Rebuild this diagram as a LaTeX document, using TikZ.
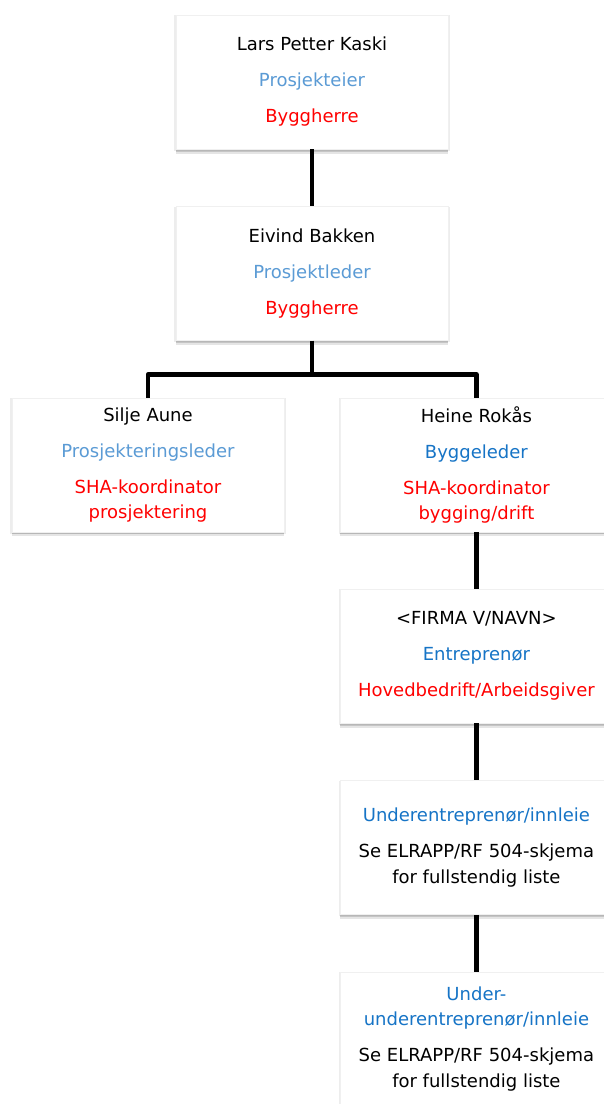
\documentclass[tikz,border=0pt]{standalone}
\usepackage{fontspec}
\setmainfont{DejaVu Sans}
\usetikzlibrary{positioning,shadows}

\definecolor{lyseblaa}{RGB}{91,155,213}
\definecolor{blaa}{RGB}{22,116,198}
\definecolor{roed}{RGB}{255,0,0}

\begin{document}
\begin{tikzpicture}[node distance=57pt,
	  box/.style={rectangle,draw=black!6,fill=white,minimum width=272pt,minimum height=134pt,align=center,
	    font=\fontsize{18}{25.5}\selectfont,
	    general shadow={fill=black,opacity=.07,shadow xshift=0pt,shadow yshift=-1pt,shadow scale=1.012},
	    general shadow={fill=black,opacity=.14,shadow xshift=0pt,shadow yshift=-2.5pt},
	    general shadow={fill=black,opacity=.10,shadow xshift=0pt,shadow yshift=-4.5pt}},
	  linje/.style={line width=4.5pt,line join=round}]

	\useasboundingbox (0,0) rectangle (603pt,-1104pt);

		\node[box] (kaski) at (312pt,-82pt) {Lars Petter Kaski\\[10.5pt] \textcolor{lyseblaa}{Prosjekteier}\\[10.5pt] \textcolor{roed}{Byggherre}};
		\node[box] (bakken) [below=of kaski] {Eivind Bakken\\[10.5pt] \textcolor{lyseblaa}{Prosjektleder}\\[10.5pt] \textcolor{roed}{Byggherre}};
		\node[box] (aune) [below=57pt of bakken, xshift=-164pt] {Silje Aune\\[10.5pt] \textcolor{lyseblaa}{Prosjekteringsleder}\\[10.5pt] \textcolor{roed}{SHA-koordinator}\\ \textcolor{roed}{prosjektering}};
		\node[box] (rokaas) [right=56pt of aune] {Heine Rokås\\[10.5pt] \textcolor{blaa}{Byggeleder}\\[10.5pt] \textcolor{roed}{SHA-koordinator}\\ \textcolor{roed}{bygging/drift}};
		\node[box] (firma) [below=of rokaas] {<FIRMA V/NAVN>\\[10.5pt] \textcolor{blaa}{Entreprenør}\\[10.5pt] \textcolor{roed}{Hovedbedrift/Arbeidsgiver}};
		\node[box] (ue) [below=of firma] {\textcolor{blaa}{Underentreprenør/innleie}\\[10.5pt] Se ELRAPP/RF 504-skjema\\ for fullstendig liste};
		\node[box] (uue) [below=of ue] {\textcolor{blaa}{Under-}\\ \textcolor{blaa}{underentreprenør/innleie}\\[10.5pt] Se ELRAPP/RF 504-skjema\\ for fullstendig liste};

		\coordinate[below=34pt of bakken.south] (deling);

	\path[linje]
		(kaski) edge (bakken)
		(bakken) edge (deling)
		(rokaas) edge (firma)
		(firma) edge (ue)
		(ue) edge (uue);
	\draw[linje] (aune.north) |- (deling) -| (rokaas.north);

\end{tikzpicture}
\end{document}
